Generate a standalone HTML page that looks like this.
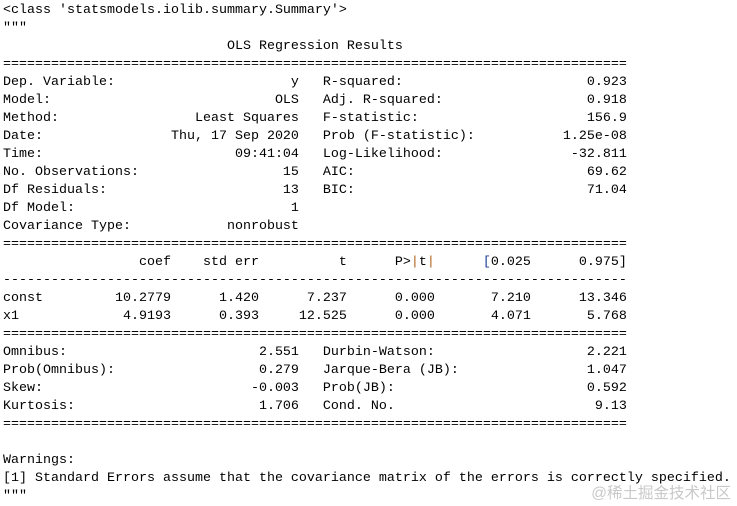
<!DOCTYPE html>
<html>
<head>
<meta charset="utf-8">
<style>
html,body{margin:0;padding:0;background:#fff;width:737px;height:506px;overflow:hidden;}
pre{position:absolute;left:3px;top:2px;margin:0;font-family:"Liberation Mono",monospace;font-size:13.333px;line-height:18px;color:#000;white-space:pre;}
.o{color:#b0601a;}
.b{color:#1a3d8f;}
.wm{position:absolute;right:6px;top:484px;font-family:"Liberation Sans","Noto Sans CJK SC",sans-serif;font-size:15.5px;line-height:20px;color:#c9c9c9;white-space:nowrap;}
</style>
</head>
<body>
<pre>&lt;class 'statsmodels.iolib.summary.Summary'&gt;
"""
                            OLS Regression Results                            
==============================================================================
Dep. Variable:                      y   R-squared:                       0.923
Model:                            OLS   Adj. R-squared:                  0.918
Method:                 Least Squares   F-statistic:                     156.9
Date:                Thu, 17 Sep 2020   Prob (F-statistic):           1.25e-08
Time:                        09:41:04   Log-Likelihood:                -32.811
No. Observations:                  15   AIC:                             69.62
Df Residuals:                      13   BIC:                             71.04
Df Model:                           1                                         
Covariance Type:            nonrobust                                         
==============================================================================
                 coef    std err          t      P&gt;<span class="o">|</span>t<span class="o">|</span>      <span class="b">[</span>0.025      0.975]
------------------------------------------------------------------------------
const         10.2779      1.420      7.237      0.000       7.210      13.346
x1             4.9193      0.393     12.525      0.000       4.071       5.768
==============================================================================
Omnibus:                        2.551   Durbin-Watson:                   2.221
Prob(Omnibus):                  0.279   Jarque-Bera (JB):                1.047
Skew:                          -0.003   Prob(JB):                        0.592
Kurtosis:                       1.706   Cond. No.                         9.13
==============================================================================

Warnings:
[1] Standard Errors assume that the covariance matrix of the errors is correctly specified.
"""</pre>
<div class="wm">@稀土掘金技术社区</div>
</body>
</html>
